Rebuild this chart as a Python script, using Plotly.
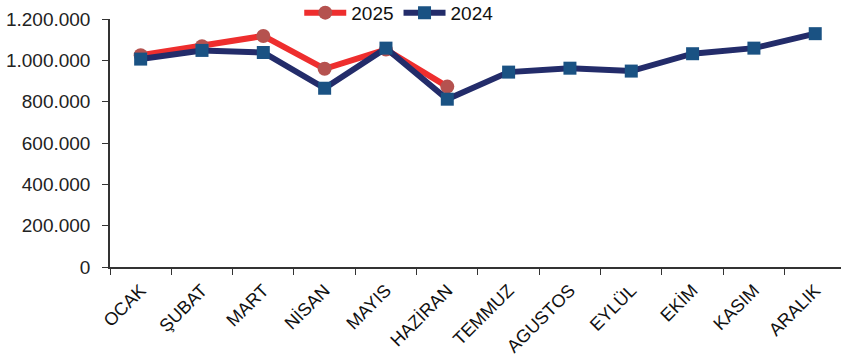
import plotly.graph_objects as go

months = ["OCAK", "ŞUBAT", "MART", "NİSAN", "MAYIS", "HAZİRAN",
          "TEMMUZ", "AGUSTOS", "EYLÜL", "EKİM", "KASIM", "ARALIK"]
values_2025 = [1025000, 1068000, 1118000, 959000, 1052000, 873000]
values_2024 = [1006000, 1048000, 1038000, 865000, 1059000, 812000,
               943000, 962000, 948000, 1032000, 1059000, 1129000]
y_ticks = [0, 200000, 400000, 600000, 800000, 1000000, 1200000]
y_tick_text = ["0", "200.000", "400.000", "600.000", "800.000", "1.000.000", "1.200.000"]

fig = go.Figure()
fig.add_trace(go.Scatter(
    x=months[:len(values_2025)], y=values_2025, name="2025", mode="lines+markers",
    line=dict(color="#EE2E2E", width=6),
    marker=dict(symbol="circle", size=14, color="#B5524F"),
))
fig.add_trace(go.Scatter(
    x=months, y=values_2024, name="2024", mode="lines+markers",
    line=dict(color="#232C6A", width=6),
    marker=dict(symbol="square", size=13, color="#1A5283"),
))

font_family = "Liberation Sans, Arial, sans-serif"
fig.update_layout(
    width=841, height=360,
    margin=dict(l=110, r=0, t=19, b=93, autoexpand=False),
    paper_bgcolor="white", plot_bgcolor="white",
    font=dict(family=font_family, size=19, color="#222222"),
    showlegend=True,
    legend=dict(orientation="h", x=0.395, xanchor="center", y=1.025, yanchor="middle",
                font=dict(size=19, color="#111111"), bgcolor="rgba(0,0,0,0)",
                itemwidth=42, tracegroupgap=0),
    xaxis=dict(
        type="category", categoryorder="array", categoryarray=months,
        range=[-0.5, 11.42], tickson="boundaries",
        showline=True, linecolor="#333333", linewidth=1.5,
        ticks="outside", ticklen=6, tickcolor="#333333",
        tickangle=-45, tickfont=dict(size=18, color="#111111"),
        ticklabelstandoff=4,
        showgrid=False, zeroline=False,
    ),
    yaxis=dict(
        range=[0, 1200000], tickvals=y_ticks, ticktext=y_tick_text,
        showline=True, linecolor="#333333", linewidth=1.5,
        ticks="outside", ticklen=6, tickcolor="#333333",
        tickfont=dict(size=19, color="#222222"),
        ticklabelstandoff=8,
        showgrid=False, zeroline=False,
    ),
)

fig.write_html("out.html")
